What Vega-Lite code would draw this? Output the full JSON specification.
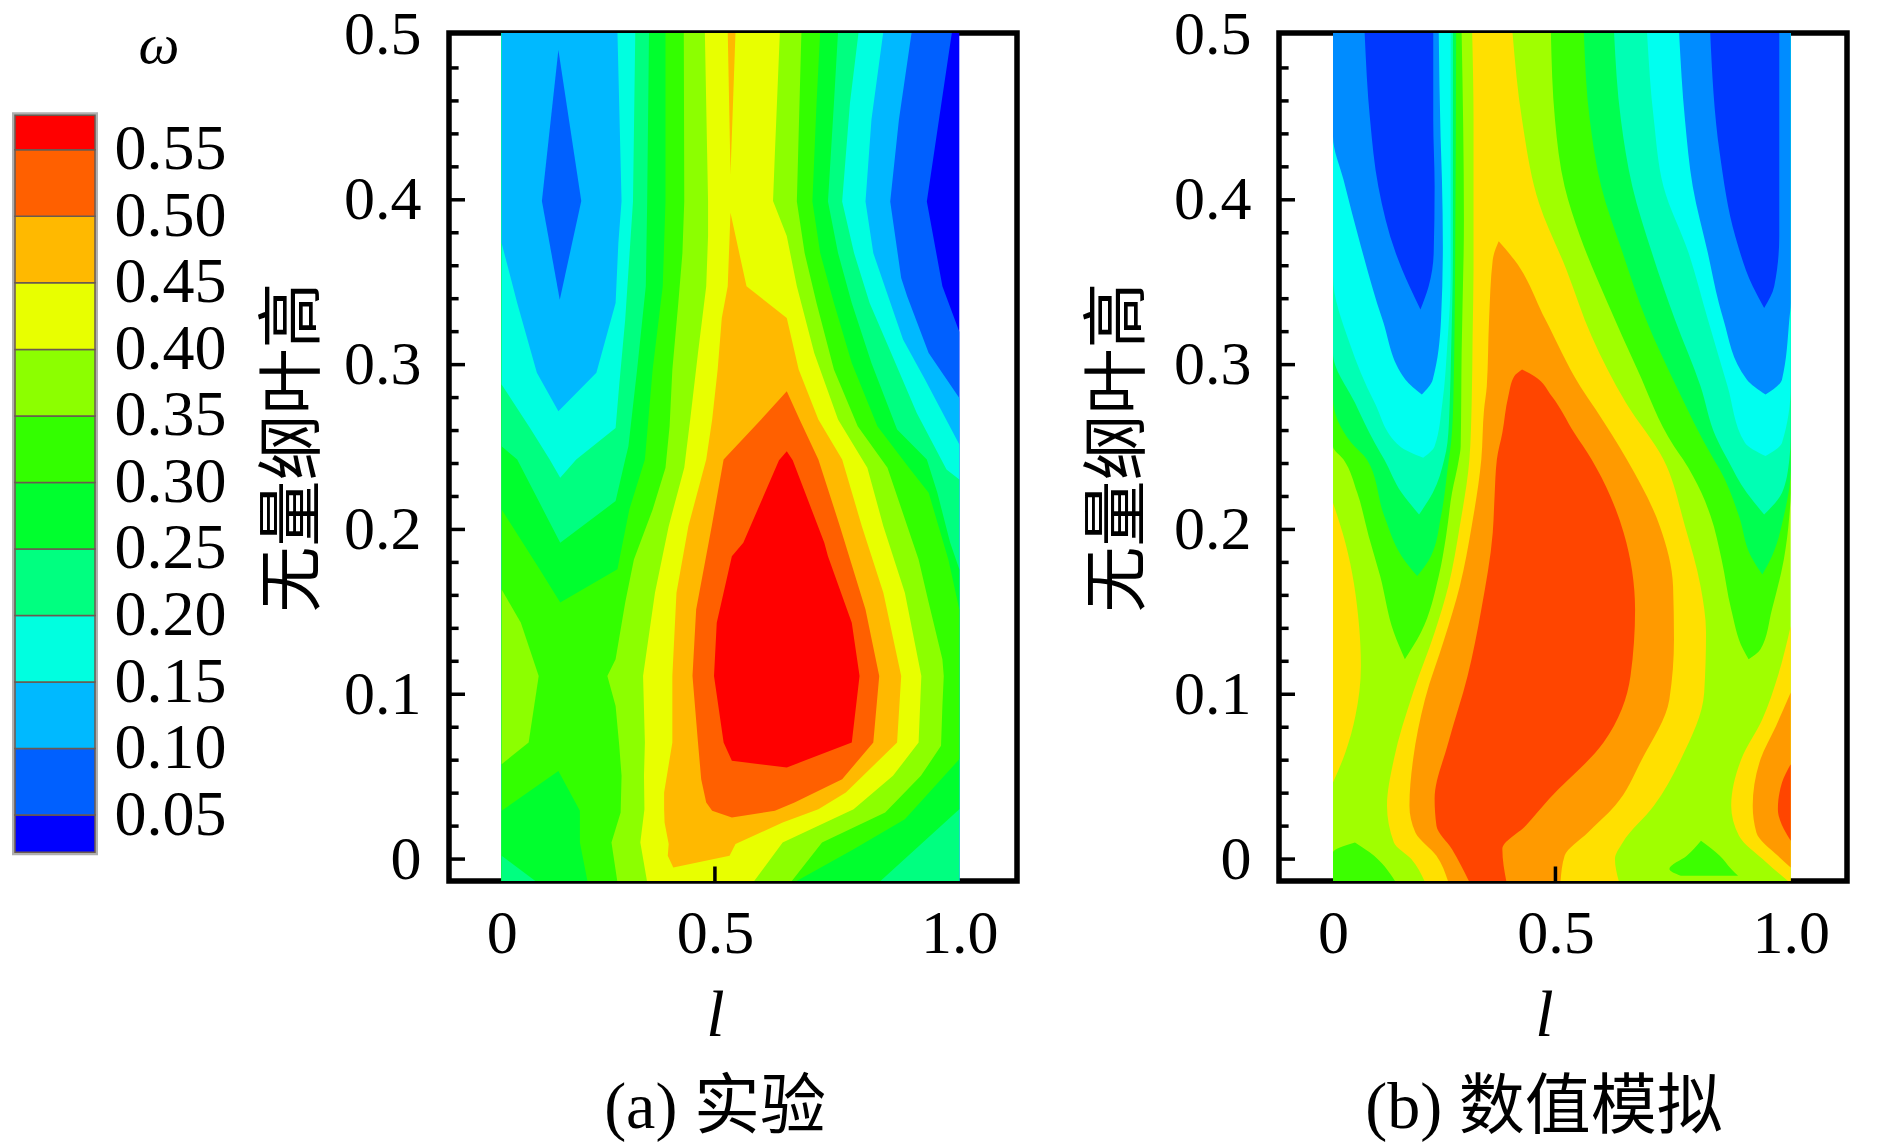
{
"$schema":"https://vega.github.io/schema/vega-lite/v6.json",
"background":"white",
"padding":{"left":12,"top":1,"right":0,"bottom":0},
"bounds":"flush",
"spacing":262,
"resolve":{"scale":{"color":"independent"}},
"datasets":{
"minor":[{"v":0.02},{"v":0.04},{"v":0.06},{"v":0.08},{"v":0.12},{"v":0.14},{"v":0.16},{"v":0.18},{"v":0.22},{"v":0.24},{"v":0.26},{"v":0.28},{"v":0.32},{"v":0.34},{"v":0.36},{"v":0.38},{"v":0.42},{"v":0.44},{"v":0.46},{"v":0.48}],
"major":[{"v":0},{"v":0.1},{"v":0.2},{"v":0.3},{"v":0.4}],
"legend":[
{"w":"0","lo":0.022,"hi":0.05},{"w":"0.05","lo":0.05,"hi":0.1},{"w":"0.10","lo":0.1,"hi":0.15},{"w":"0.15","lo":0.15,"hi":0.2},{"w":"0.20","lo":0.2,"hi":0.25},{"w":"0.25","lo":0.25,"hi":0.3},{"w":"0.30","lo":0.3,"hi":0.35},{"w":"0.35","lo":0.35,"hi":0.4},{"w":"0.40","lo":0.4,"hi":0.45},{"w":"0.45","lo":0.45,"hi":0.5},{"w":"0.50","lo":0.5,"hi":0.55},{"w":"0.55","lo":0.55,"hi":0.576}],
"exp":[
{"s":"a00","w":"0","h":-0.014,"l":0,"l2":1},{"s":"a00","w":"0","h":0.502,"l":0,"l2":1},
{"s":"a01","w":"0.05","h":-0.014,"l":0,"l2":1},{"s":"a01","w":"0.05","h":0.32,"l":0,"l2":1},{"s":"a01","w":"0.05","h":0.3475,"l":0,"l2":0.963},{"s":"a01","w":"0.05","h":0.399,"l":0,"l2":0.929},{"s":"a01","w":"0.05","h":0.502,"l":0,"l2":0.984},
{"s":"a02","w":"0.10","h":-0.014,"l":0,"l2":1},{"s":"a02","w":"0.10","h":0.2798,"l":0,"l2":1},{"s":"a02","w":"0.10","h":0.307,"l":0,"l2":0.933},{"s":"a02","w":"0.10","h":0.3415,"l":0,"l2":0.886},{"s":"a02","w":"0.10","h":0.3525,"l":0,"l2":0.873},{"s":"a02","w":"0.10","h":0.399,"l":0,"l2":0.849},{"s":"a02","w":"0.10","h":0.4485,"l":0,"l2":0.868},{"s":"a02","w":"0.10","h":0.502,"l":0,"l2":0.896},
{"s":"a03","w":"0.15","h":-0.014,"l":0,"l2":1},{"s":"a03","w":"0.15","h":0.2515,"l":0,"l2":1},{"s":"a03","w":"0.15","h":0.2909,"l":0,"l2":0.925},{"s":"a03","w":"0.15","h":0.3152,"l":0,"l2":0.877},{"s":"a03","w":"0.15","h":0.3434,"l":0,"l2":0.842},{"s":"a03","w":"0.15","h":0.3677,"l":0,"l2":0.812},{"s":"a03","w":"0.15","h":0.399,"l":0,"l2":0.795},{"s":"a03","w":"0.15","h":0.4485,"l":0,"l2":0.808},{"s":"a03","w":"0.15","h":0.502,"l":0,"l2":0.834},
{"s":"a04","w":"0.20","h":-0.014,"l":0,"l2":1},{"s":"a04","w":"0.20","h":0.2303,"l":0,"l2":1},{"s":"a04","w":"0.20","h":0.2364,"l":0,"l2":0.972},{"s":"a04","w":"0.20","h":0.2707,"l":0,"l2":0.907},{"s":"a04","w":"0.20","h":0.307,"l":0,"l2":0.851},{"s":"a04","w":"0.20","h":0.3374,"l":0,"l2":0.804},{"s":"a04","w":"0.20","h":0.3677,"l":0,"l2":0.77},{"s":"a04","w":"0.20","h":0.399,"l":0,"l2":0.744},{"s":"a04","w":"0.20","h":0.4586,"l":0,"l2":0.761},{"s":"a04","w":"0.20","h":0.502,"l":0,"l2":0.78},
{"s":"a05","w":"0.25","h":-0.014,"l":0,"l2":0.825},{"s":"a05","w":"0.25","h":0.0303,"l":0,"l2":1},{"s":"a05","w":"0.25","h":0.1758,"l":0,"l2":1},{"s":"a05","w":"0.25","h":0.1919,"l":0,"l2":0.98},{"s":"a05","w":"0.25","h":0.2222,"l":0,"l2":0.952},{"s":"a05","w":"0.25","h":0.2424,"l":0,"l2":0.929},{"s":"a05","w":"0.25","h":0.2606,"l":0,"l2":0.864},{"s":"a05","w":"0.25","h":0.301,"l":0,"l2":0.808},{"s":"a05","w":"0.25","h":0.3374,"l":0,"l2":0.765},{"s":"a05","w":"0.25","h":0.3677,"l":0,"l2":0.735},{"s":"a05","w":"0.25","h":0.399,"l":0,"l2":0.713},{"s":"a05","w":"0.25","h":0.4586,"l":0,"l2":0.726},{"s":"a05","w":"0.25","h":0.502,"l":0,"l2":0.735},
{"s":"a06","w":"0.30","h":-0.014,"l":0,"l2":0.64},{"s":"a06","w":"0.30","h":0.006,"l":0,"l2":0.769},{"s":"a06","w":"0.30","h":0.0242,"l":0,"l2":0.881},{"s":"a06","w":"0.30","h":0.0606,"l":0,"l2":1},{"s":"a06","w":"0.30","h":0.1515,"l":0,"l2":1},{"s":"a06","w":"0.30","h":0.1818,"l":0,"l2":0.976},{"s":"a06","w":"0.30","h":0.2222,"l":0,"l2":0.933},{"s":"a06","w":"0.30","h":0.2374,"l":0,"l2":0.89},{"s":"a06","w":"0.30","h":0.2626,"l":0,"l2":0.821},{"s":"a06","w":"0.30","h":0.301,"l":0,"l2":0.765},{"s":"a06","w":"0.30","h":0.3374,"l":0,"l2":0.726},{"s":"a06","w":"0.30","h":0.3677,"l":0,"l2":0.696},{"s":"a06","w":"0.30","h":0.399,"l":0,"l2":0.679},{"s":"a06","w":"0.30","h":0.4586,"l":0,"l2":0.688},{"s":"a06","w":"0.30","h":0.502,"l":0,"l2":0.696},
{"s":"a07","w":"0.25","h":0.1556,"l":0.128,"l2":0.128},{"s":"a07","w":"0.25","h":0.1758,"l":0.083,"l2":0.253},{"s":"a07","w":"0.25","h":0.2121,"l":0,"l2":0.279},{"s":"a07","w":"0.25","h":0.2424,"l":0,"l2":0.313},{"s":"a07","w":"0.25","h":0.297,"l":0,"l2":0.33},{"s":"a07","w":"0.25","h":0.3475,"l":0,"l2":0.352},{"s":"a07","w":"0.25","h":0.399,"l":0,"l2":0.358},{"s":"a07","w":"0.25","h":0.502,"l":0,"l2":0.358},
{"s":"a08","w":"0.20","h":0.1919,"l":0.128,"l2":0.128},{"s":"a08","w":"0.20","h":0.2172,"l":0.081,"l2":0.249},{"s":"a08","w":"0.20","h":0.2424,"l":0.034,"l2":0.27},{"s":"a08","w":"0.20","h":0.2505,"l":0,"l2":0.277},{"s":"a08","w":"0.20","h":0.297,"l":0,"l2":0.296},{"s":"a08","w":"0.20","h":0.3475,"l":0,"l2":0.315},{"s":"a08","w":"0.20","h":0.399,"l":0,"l2":0.318},{"s":"a08","w":"0.20","h":0.502,"l":0,"l2":0.322},
{"s":"a09","w":"0.15","h":0.2313,"l":0.128,"l2":0.128},{"s":"a09","w":"0.15","h":0.2424,"l":0.105,"l2":0.163},{"s":"a09","w":"0.15","h":0.2616,"l":0.062,"l2":0.249},{"s":"a09","w":"0.15","h":0.2879,"l":0,"l2":0.257},{"s":"a09","w":"0.15","h":0.3273,"l":0,"l2":0.27},{"s":"a09","w":"0.15","h":0.399,"l":0,"l2":0.287},{"s":"a09","w":"0.15","h":0.502,"l":0,"l2":0.292},
{"s":"a10","w":"0.10","h":0.2717,"l":0.124,"l2":0.124},{"s":"a10","w":"0.10","h":0.295,"l":0.077,"l2":0.207},{"s":"a10","w":"0.10","h":0.3374,"l":0.034,"l2":0.249},{"s":"a10","w":"0.10","h":0.3737,"l":0,"l2":0.255},{"s":"a10","w":"0.10","h":0.3992,"l":0,"l2":0.262},{"s":"a10","w":"0.10","h":0.502,"l":0,"l2":0.253},
{"s":"a11","w":"0.05","h":0.3394,"l":0.127,"l2":0.127},{"s":"a11","w":"0.05","h":0.3992,"l":0.088,"l2":0.174},{"s":"a11","w":"0.05","h":0.4909,"l":0.124,"l2":0.124},
{"s":"a12","w":"0.35","h":0.0576,"l":0,"l2":0},{"s":"a12","w":"0.35","h":0.0707,"l":0,"l2":0.059},{"s":"a12","w":"0.35","h":0.1111,"l":0,"l2":0.081},{"s":"a12","w":"0.35","h":0.1434,"l":0,"l2":0.042},{"s":"a12","w":"0.35","h":0.1636,"l":0,"l2":0},
{"s":"a13","w":"0.25","h":-0.014,"l":0,"l2":0.188},{"s":"a13","w":"0.25","h":0.0101,"l":0,"l2":0.171},{"s":"a13","w":"0.25","h":0.0293,"l":0,"l2":0.171},{"s":"a13","w":"0.25","h":0.0535,"l":0.124,"l2":0.124},
{"s":"a14","w":"0.20","h":-0.014,"l":0,"l2":0.077},{"s":"a14","w":"0.20","h":0.002,"l":0,"l2":0},
{"s":"a15","w":"0.35","h":-0.014,"l":0.253,"l2":0.632},{"s":"a15","w":"0.35","h":0.0101,"l":0.24,"l2":0.7},{"s":"a15","w":"0.35","h":0.0283,"l":0.26,"l2":0.838},{"s":"a15","w":"0.35","h":0.0505,"l":0.262,"l2":0.916},{"s":"a15","w":"0.35","h":0.0687,"l":0.257,"l2":0.96},{"s":"a15","w":"0.35","h":0.0929,"l":0.249,"l2":0.963},{"s":"a15","w":"0.35","h":0.1111,"l":0.231,"l2":0.966},{"s":"a15","w":"0.35","h":0.1212,"l":0.249,"l2":0.963},{"s":"a15","w":"0.35","h":0.1556,"l":0.27,"l2":0.933},{"s":"a15","w":"0.35","h":0.1818,"l":0.289,"l2":0.911},{"s":"a15","w":"0.35","h":0.2121,"l":0.33,"l2":0.874},{"s":"a15","w":"0.35","h":0.2374,"l":0.358,"l2":0.843},{"s":"a15","w":"0.35","h":0.2626,"l":0.367,"l2":0.778},{"s":"a15","w":"0.35","h":0.297,"l":0.373,"l2":0.726},{"s":"a15","w":"0.35","h":0.3374,"l":0.386,"l2":0.688},{"s":"a15","w":"0.35","h":0.3677,"l":0.395,"l2":0.662},{"s":"a15","w":"0.35","h":0.399,"l":0.399,"l2":0.645},{"s":"a15","w":"0.35","h":0.502,"l":0.398,"l2":0.655},
{"s":"a16","w":"0.40","h":-0.014,"l":0.318,"l2":0.55},{"s":"a16","w":"0.40","h":0.0101,"l":0.303,"l2":0.614},{"s":"a16","w":"0.40","h":0.0303,"l":0.312,"l2":0.769},{"s":"a16","w":"0.40","h":0.0505,"l":0.311,"l2":0.855},{"s":"a16","w":"0.40","h":0.0707,"l":0.313,"l2":0.911},{"s":"a16","w":"0.40","h":0.1111,"l":0.309,"l2":0.917},{"s":"a16","w":"0.40","h":0.1616,"l":0.335,"l2":0.881},{"s":"a16","w":"0.40","h":0.202,"l":0.365,"l2":0.834},{"s":"a16","w":"0.40","h":0.2374,"l":0.399,"l2":0.799},{"s":"a16","w":"0.40","h":0.2667,"l":0.412,"l2":0.735},{"s":"a16","w":"0.40","h":0.3071,"l":0.429,"l2":0.683},{"s":"a16","w":"0.40","h":0.3475,"l":0.447,"l2":0.645},{"s":"a16","w":"0.40","h":0.378,"l":0.451,"l2":0.623},{"s":"a16","w":"0.40","h":0.3992,"l":0.451,"l2":0.593},{"s":"a16","w":"0.40","h":0.4283,"l":0.449,"l2":0.597},{"s":"a16","w":"0.40","h":0.502,"l":0.444,"l2":0.608},
{"s":"a17","w":"0.45","h":-0.0051,"l":0.375,"l2":0.375},{"s":"a17","w":"0.45","h":0.002,"l":0.363,"l2":0.498},{"s":"a17","w":"0.45","h":0.0091,"l":0.365,"l2":0.511},{"s":"a17","w":"0.45","h":0.0222,"l":0.356,"l2":0.614},{"s":"a17","w":"0.45","h":0.0303,"l":0.355,"l2":0.692},{"s":"a17","w":"0.45","h":0.0404,"l":0.355,"l2":0.752},{"s":"a17","w":"0.45","h":0.0707,"l":0.373,"l2":0.864},{"s":"a17","w":"0.45","h":0.1111,"l":0.373,"l2":0.873},{"s":"a17","w":"0.45","h":0.1616,"l":0.382,"l2":0.834},{"s":"a17","w":"0.45","h":0.202,"l":0.408,"l2":0.787},{"s":"a17","w":"0.45","h":0.2424,"l":0.447,"l2":0.744},{"s":"a17","w":"0.45","h":0.2667,"l":0.46,"l2":0.692},{"s":"a17","w":"0.45","h":0.297,"l":0.472,"l2":0.649},{"s":"a17","w":"0.45","h":0.3283,"l":0.481,"l2":0.623},{"s":"a17","w":"0.45","h":0.3475,"l":0.494,"l2":0.535},{"s":"a17","w":"0.45","h":0.3921,"l":0.5,"l2":0.5},
{"s":"a18","w":"0.45","h":0.4152,"l":0.5,"l2":0.5},{"s":"a18","w":"0.45","h":0.502,"l":0.494,"l2":0.511},
{"s":"a19","w":"0.50","h":0.0253,"l":0.503,"l2":0.503},{"s":"a19","w":"0.50","h":0.0293,"l":0.46,"l2":0.597},{"s":"a19","w":"0.50","h":0.0343,"l":0.447,"l2":0.64},{"s":"a19","w":"0.50","h":0.0485,"l":0.436,"l2":0.744},{"s":"a19","w":"0.50","h":0.0707,"l":0.429,"l2":0.812},{"s":"a19","w":"0.50","h":0.1111,"l":0.417,"l2":0.825},{"s":"a19","w":"0.50","h":0.1515,"l":0.425,"l2":0.795},{"s":"a19","w":"0.50","h":0.202,"l":0.459,"l2":0.739},{"s":"a19","w":"0.50","h":0.2424,"l":0.485,"l2":0.692},{"s":"a19","w":"0.50","h":0.2667,"l":0.567,"l2":0.651},{"s":"a19","w":"0.50","h":0.2839,"l":0.623,"l2":0.623},
{"s":"a20","w":"0.55","h":0.0556,"l":0.623,"l2":0.623},{"s":"a20","w":"0.55","h":0.0596,"l":0.503,"l2":0.661},{"s":"a20","w":"0.55","h":0.0707,"l":0.485,"l2":0.765},{"s":"a20","w":"0.55","h":0.1111,"l":0.464,"l2":0.782},{"s":"a20","w":"0.55","h":0.1434,"l":0.47,"l2":0.765},{"s":"a20","w":"0.55","h":0.1838,"l":0.503,"l2":0.713},{"s":"a20","w":"0.55","h":0.1919,"l":0.528,"l2":0.705},{"s":"a20","w":"0.55","h":0.242,"l":0.606,"l2":0.636},{"s":"a20","w":"0.55","h":0.2475,"l":0.623,"l2":0.623}
],
"sim":[
{"s":"b00","w":"0.35","h":-0.014,"l":0,"l2":1},{"s":"b00","w":"0.35","h":0.502,"l":0,"l2":1},
{"s":"b01","w":"0.40","h":0.0465,"l":0,"l2":0},{"s":"b01","w":"0.40","h":0.0646,"l":0,"l2":0.027},{"s":"b01","w":"0.40","h":0.0869,"l":0,"l2":0.049},{"s":"b01","w":"0.40","h":0.1172,"l":0,"l2":0.061},{"s":"b01","w":"0.40","h":0.1414,"l":0,"l2":0.057},{"s":"b01","w":"0.40","h":0.1919,"l":0,"l2":0.027},{"s":"b01","w":"0.40","h":0.2162,"l":0,"l2":0},
{"s":"b02","w":"0.30","h":-0.014,"l":0,"l2":0.137},{"s":"b02","w":"0.30","h":0.0041,"l":0,"l2":0.08},{"s":"b02","w":"0.30","h":0.0101,"l":0.048,"l2":0.048},
{"s":"b03","w":"0.30","h":-0.0101,"l":0.76,"l2":0.885},{"s":"b03","w":"0.30","h":-0.006,"l":0.735,"l2":0.87},{"s":"b03","w":"0.30","h":0.002,"l":0.773,"l2":0.845},{"s":"b03","w":"0.30","h":0.0111,"l":0.804,"l2":0.804},
{"s":"b04","w":"0.40","h":-0.014,"l":0.997,"l2":1},{"s":"b04","w":"0.40","h":-0.002,"l":0.947,"l2":1},{"s":"b04","w":"0.40","h":0.0141,"l":0.887,"l2":1},{"s":"b04","w":"0.40","h":0.0323,"l":0.87,"l2":1},{"s":"b04","w":"0.40","h":0.0606,"l":0.892,"l2":1},{"s":"b04","w":"0.40","h":0.0848,"l":0.938,"l2":1},{"s":"b04","w":"0.40","h":0.1111,"l":0.972,"l2":1},{"s":"b04","w":"0.40","h":0.1414,"l":1,"l2":1},
{"s":"b05","w":"0.45","h":-0.0051,"l":1,"l2":1},{"s":"b05","w":"0.45","h":0.002,"l":0.972,"l2":1},{"s":"b05","w":"0.45","h":0.0162,"l":0.925,"l2":1},{"s":"b05","w":"0.45","h":0.0323,"l":0.917,"l2":1},{"s":"b05","w":"0.45","h":0.0606,"l":0.934,"l2":1},{"s":"b05","w":"0.45","h":0.0808,"l":0.968,"l2":1},{"s":"b05","w":"0.45","h":0.101,"l":1,"l2":1},
{"s":"b06","w":"0.50","h":0.0111,"l":1,"l2":1},{"s":"b06","w":"0.50","h":0.0182,"l":0.985,"l2":1},{"s":"b06","w":"0.50","h":0.0303,"l":0.972,"l2":1},{"s":"b06","w":"0.50","h":0.0465,"l":0.981,"l2":1},{"s":"b06","w":"0.50","h":0.0576,"l":1,"l2":1},
{"s":"b07","w":"0.30","h":0.1212,"l":0.157,"l2":0.157},{"s":"b07","w":"0.30","h":0.1374,"l":0.133,"l2":0.192},{"s":"b07","w":"0.30","h":0.1717,"l":0.103,"l2":0.231},{"s":"b07","w":"0.30","h":0.1959,"l":0.078,"l2":0.247},{"s":"b07","w":"0.30","h":0.2222,"l":0.053,"l2":0.26},{"s":"b07","w":"0.30","h":0.2424,"l":0.023,"l2":0.275},{"s":"b07","w":"0.30","h":0.2505,"l":0,"l2":0.279},{"s":"b07","w":"0.30","h":0.3071,"l":0,"l2":0.281},{"s":"b07","w":"0.30","h":0.3879,"l":0,"l2":0.286},{"s":"b07","w":"0.30","h":0.502,"l":0,"l2":0.281},
{"s":"b08","w":"0.25","h":0.1717,"l":0.184,"l2":0.184},{"s":"b08","w":"0.25","h":0.1838,"l":0.15,"l2":0.214},{"s":"b08","w":"0.25","h":0.2081,"l":0.112,"l2":0.236},{"s":"b08","w":"0.25","h":0.2424,"l":0.074,"l2":0.253},{"s":"b08","w":"0.25","h":0.2526,"l":0.04,"l2":0.258},{"s":"b08","w":"0.25","h":0.2798,"l":0,"l2":0.263},{"s":"b08","w":"0.25","h":0.3677,"l":0,"l2":0.267},{"s":"b08","w":"0.25","h":0.502,"l":0,"l2":0.269},
{"s":"b09","w":"0.20","h":0.2091,"l":0.188,"l2":0.188},{"s":"b09","w":"0.20","h":0.2222,"l":0.15,"l2":0.218},{"s":"b09","w":"0.20","h":0.2424,"l":0.112,"l2":0.243},{"s":"b09","w":"0.20","h":0.2526,"l":0.091,"l2":0.25},{"s":"b09","w":"0.20","h":0.2768,"l":0.048,"l2":0.255},{"s":"b09","w":"0.20","h":0.3071,"l":0,"l2":0.258},{"s":"b09","w":"0.20","h":0.3677,"l":0,"l2":0.262},{"s":"b09","w":"0.20","h":0.502,"l":0,"l2":0.262},
{"s":"b10","w":"0.15","h":0.2435,"l":0.197,"l2":0.197},{"s":"b10","w":"0.15","h":0.2505,"l":0.146,"l2":0.222},{"s":"b10","w":"0.15","h":0.2768,"l":0.091,"l2":0.239},{"s":"b10","w":"0.15","h":0.3132,"l":0.036,"l2":0.25},{"s":"b10","w":"0.15","h":0.3536,"l":0,"l2":0.257},{"s":"b10","w":"0.15","h":0.502,"l":0,"l2":0.257},
{"s":"b11","w":"0.10","h":0.2819,"l":0.194,"l2":0.194},{"s":"b11","w":"0.10","h":0.291,"l":0.158,"l2":0.218},{"s":"b11","w":"0.10","h":0.3273,"l":0.108,"l2":0.236},{"s":"b11","w":"0.10","h":0.3717,"l":0.061,"l2":0.24},{"s":"b11","w":"0.10","h":0.4121,"l":0.023,"l2":0.238},{"s":"b11","w":"0.10","h":0.4384,"l":0,"l2":0.235},{"s":"b11","w":"0.10","h":0.502,"l":0,"l2":0.231},
{"s":"b12","w":"0.05","h":0.3334,"l":0.191,"l2":0.191},{"s":"b12","w":"0.05","h":0.3475,"l":0.167,"l2":0.209},{"s":"b12","w":"0.05","h":0.3677,"l":0.137,"l2":0.22},{"s":"b12","w":"0.05","h":0.4081,"l":0.099,"l2":0.222},{"s":"b12","w":"0.05","h":0.4485,"l":0.081,"l2":0.219},{"s":"b12","w":"0.05","h":0.502,"l":0.069,"l2":0.219},
{"s":"b13","w":"0.30","h":0.1212,"l":0.908,"l2":0.908},{"s":"b13","w":"0.30","h":0.1273,"l":0.896,"l2":0.934},{"s":"b13","w":"0.30","h":0.1515,"l":0.87,"l2":0.959},{"s":"b13","w":"0.30","h":0.1818,"l":0.849,"l2":0.985},{"s":"b13","w":"0.30","h":0.2081,"l":0.825,"l2":0.997},{"s":"b13","w":"0.30","h":0.2222,"l":0.805,"l2":1},{"s":"b13","w":"0.30","h":0.2424,"l":0.765,"l2":1},{"s":"b13","w":"0.30","h":0.2505,"l":0.745,"l2":1},{"s":"b13","w":"0.30","h":0.297,"l":0.665,"l2":1},{"s":"b13","w":"0.30","h":0.3374,"l":0.6,"l2":1},{"s":"b13","w":"0.30","h":0.3778,"l":0.54,"l2":1},{"s":"b13","w":"0.30","h":0.4081,"l":0.506,"l2":1},{"s":"b13","w":"0.30","h":0.4485,"l":0.485,"l2":1},{"s":"b13","w":"0.30","h":0.502,"l":0.476,"l2":1},
{"s":"b14","w":"0.25","h":0.1727,"l":0.938,"l2":0.938},{"s":"b14","w":"0.25","h":0.1838,"l":0.913,"l2":0.959},{"s":"b14","w":"0.25","h":0.2081,"l":0.887,"l2":0.985},{"s":"b14","w":"0.25","h":0.2363,"l":0.845,"l2":1},{"s":"b14","w":"0.25","h":0.2424,"l":0.832,"l2":1},{"s":"b14","w":"0.25","h":0.2869,"l":0.75,"l2":1},{"s":"b14","w":"0.25","h":0.3273,"l":0.684,"l2":1},{"s":"b14","w":"0.25","h":0.3677,"l":0.633,"l2":1},{"s":"b14","w":"0.25","h":0.4081,"l":0.586,"l2":1},{"s":"b14","w":"0.25","h":0.4485,"l":0.561,"l2":1},{"s":"b14","w":"0.25","h":0.502,"l":0.548,"l2":1},
{"s":"b15","w":"0.20","h":0.2091,"l":0.942,"l2":0.942},{"s":"b15","w":"0.20","h":0.2222,"l":0.904,"l2":0.981},{"s":"b15","w":"0.20","h":0.2424,"l":0.862,"l2":0.997},{"s":"b15","w":"0.20","h":0.2566,"l":0.836,"l2":1},{"s":"b15","w":"0.20","h":0.2869,"l":0.803,"l2":1},{"s":"b15","w":"0.20","h":0.3273,"l":0.747,"l2":1},{"s":"b15","w":"0.20","h":0.3677,"l":0.697,"l2":1},{"s":"b15","w":"0.20","h":0.4081,"l":0.654,"l2":1},{"s":"b15","w":"0.20","h":0.4485,"l":0.629,"l2":1},{"s":"b15","w":"0.20","h":0.502,"l":0.614,"l2":1},
{"s":"b16","w":"0.15","h":0.2445,"l":0.945,"l2":0.945},{"s":"b16","w":"0.15","h":0.2526,"l":0.9,"l2":0.981},{"s":"b16","w":"0.15","h":0.2869,"l":0.862,"l2":1},{"s":"b16","w":"0.15","h":0.3273,"l":0.819,"l2":1},{"s":"b16","w":"0.15","h":0.3677,"l":0.777,"l2":1},{"s":"b16","w":"0.15","h":0.4081,"l":0.722,"l2":1},{"s":"b16","w":"0.15","h":0.4485,"l":0.701,"l2":1},{"s":"b16","w":"0.15","h":0.502,"l":0.686,"l2":1},
{"s":"b17","w":"0.10","h":0.2819,"l":0.945,"l2":0.945},{"s":"b17","w":"0.10","h":0.291,"l":0.904,"l2":0.981},{"s":"b17","w":"0.10","h":0.3273,"l":0.853,"l2":0.997},{"s":"b17","w":"0.10","h":0.3374,"l":0.843,"l2":1},{"s":"b17","w":"0.10","h":0.3677,"l":0.819,"l2":1},{"s":"b17","w":"0.10","h":0.4081,"l":0.786,"l2":1},{"s":"b17","w":"0.10","h":0.4485,"l":0.769,"l2":1},{"s":"b17","w":"0.10","h":0.502,"l":0.756,"l2":1},
{"s":"b18","w":"0.05","h":0.3344,"l":0.942,"l2":0.942},{"s":"b18","w":"0.05","h":0.3475,"l":0.917,"l2":0.964},{"s":"b18","w":"0.05","h":0.3778,"l":0.879,"l2":0.975},{"s":"b18","w":"0.05","h":0.4283,"l":0.845,"l2":0.975},{"s":"b18","w":"0.05","h":0.502,"l":0.824,"l2":0.975},
{"s":"b19","w":"0.40","h":-0.014,"l":0.201,"l2":0.625},{"s":"b19","w":"0.40","h":0,"l":0.171,"l2":0.616},{"s":"b19","w":"0.40","h":0.0101,"l":0.133,"l2":0.633},{"s":"b19","w":"0.40","h":0.0323,"l":0.118,"l2":0.701},{"s":"b19","w":"0.40","h":0.0606,"l":0.133,"l2":0.76},{"s":"b19","w":"0.40","h":0.101,"l":0.175,"l2":0.811},{"s":"b19","w":"0.40","h":0.1374,"l":0.222,"l2":0.815},{"s":"b19","w":"0.40","h":0.1656,"l":0.252,"l2":0.803},{"s":"b19","w":"0.40","h":0.202,"l":0.277,"l2":0.769},{"s":"b19","w":"0.40","h":0.2424,"l":0.298,"l2":0.722},{"s":"b19","w":"0.40","h":0.2768,"l":0.303,"l2":0.64},{"s":"b19","w":"0.40","h":0.3172,"l":0.305,"l2":0.565},{"s":"b19","w":"0.40","h":0.3576,"l":0.307,"l2":0.51},{"s":"b19","w":"0.40","h":0.398,"l":0.307,"l2":0.45},{"s":"b19","w":"0.40","h":0.4485,"l":0.307,"l2":0.413},{"s":"b19","w":"0.40","h":0.502,"l":0.304,"l2":0.392},
{"s":"b20","w":"0.45","h":-0.014,"l":0.252,"l2":0.497},{"s":"b20","w":"0.45","h":0.002,"l":0.226,"l2":0.506},{"s":"b20","w":"0.45","h":0.0162,"l":0.18,"l2":0.557},{"s":"b20","w":"0.45","h":0.0323,"l":0.167,"l2":0.616},{"s":"b20","w":"0.45","h":0.0606,"l":0.175,"l2":0.675},{"s":"b20","w":"0.45","h":0.097,"l":0.201,"l2":0.735},{"s":"b20","w":"0.45","h":0.1333,"l":0.243,"l2":0.745},{"s":"b20","w":"0.45","h":0.1656,"l":0.277,"l2":0.743},{"s":"b20","w":"0.45","h":0.202,"l":0.303,"l2":0.714},{"s":"b20","w":"0.45","h":0.2424,"l":0.324,"l2":0.642},{"s":"b20","w":"0.45","h":0.2727,"l":0.33,"l2":0.574},{"s":"b20","w":"0.45","h":0.2869,"l":0.336,"l2":0.54},{"s":"b20","w":"0.45","h":0.3273,"l":0.341,"l2":0.464},{"s":"b20","w":"0.45","h":0.3636,"l":0.349,"l2":0.396},{"s":"b20","w":"0.45","h":0.3748,"l":0.362,"l2":0.362},
{"s":"b21","w":"0.50","h":-0.014,"l":0.298,"l2":0.379},{"s":"b21","w":"0.50","h":0.006,"l":0.26,"l2":0.37},{"s":"b21","w":"0.50","h":0.0202,"l":0.226,"l2":0.421},{"s":"b21","w":"0.50","h":0.0364,"l":0.222,"l2":0.472},{"s":"b21","w":"0.50","h":0.0707,"l":0.252,"l2":0.591},{"s":"b21","w":"0.50","h":0.1111,"l":0.294,"l2":0.65},{"s":"b21","w":"0.50","h":0.1515,"l":0.324,"l2":0.66},{"s":"b21","w":"0.50","h":0.198,"l":0.349,"l2":0.635},{"s":"b21","w":"0.50","h":0.2202,"l":0.353,"l2":0.606},{"s":"b21","w":"0.50","h":0.2424,"l":0.358,"l2":0.565},{"s":"b21","w":"0.50","h":0.2586,"l":0.37,"l2":0.527},{"s":"b21","w":"0.50","h":0.2808,"l":0.383,"l2":0.478},{"s":"b21","w":"0.50","h":0.2929,"l":0.396,"l2":0.44},{"s":"b21","w":"0.50","h":0.297,"l":0.413,"l2":0.413}
]
},
"hconcat":[
{
"width":172,"height":848,
"view":{"stroke":null},
"layer":[
{"data":{"values":[{"t":"bar"}]},
"mark":{"type":"rect","fill":"#8c8c8c","stroke":"#b0b0b0","strokeWidth":6},
"encoding":{
"x":{"datum":0,"type":"quantitative","scale":{"domain":[0,2.15],"nice":false},"axis":null},
"x2":{"datum":1},
"y":{"datum":0.022,"type":"quantitative","scale":{"domain":[0.00045,0.6378],"nice":false},
"axis":{"orient":"right","offset":-73,"ticks":false,"domain":false,"grid":false,"title":null,"labelPadding":0,"labelFontSize":64,"labelFont":"Liberation Serif","labelColor":"black","values":[0.05,0.1,0.15,0.2,0.25,0.3,0.35,0.4,0.45,0.5,0.55],"format":".2f"}},
"y2":{"datum":0.576}
}},
{"data":{"name":"legend"},
"mark":{"type":"rect","stroke":"#6b5a50","strokeWidth":1.5},
"encoding":{
"x":{"datum":0,"type":"quantitative"},
"x2":{"datum":1},
"y":{"field":"lo","type":"quantitative"},
"y2":{"field":"hi"},
"color":{"field":"w","type":"nominal","legend":null,"scale":{"domain":["0","0.05","0.10","0.15","0.20","0.25","0.30","0.35","0.40","0.45","0.50","0.55"],"range":["#0000ff","#0060ff","#00b9ff","#00ffe0","#00ff80","#00ff2e","#33ff00","#8cff00","#e8ff00","#ffb900","#ff6000","#ff0000"]}}
}},
{"data":{"values":[{"t":"ω"}]},
"mark":{"type":"text","font":"Liberation Serif","fontStyle":"italic","fontSize":58,"color":"black"},
"encoding":{"x":{"datum":1.8,"type":"quantitative"},"y":{"datum":0.628,"type":"quantitative"},"text":{"field":"t"}}}
]
},
{
"width":568,"height":848,
"view":{"stroke":"black","strokeWidth":5.5},
"title":{"text":"(a) 实验","orient":"bottom","anchor":"middle","dx":-18,"offset":28,"fontSize":66,"font":"Liberation Serif, Noto Sans CJK SC","fontWeight":"normal","color":"black"},
"layer":[
{"data":{"name":"exp"},
"mark":{"type":"area","orient":"horizontal","clip":true,"interpolate":"linear"},
"encoding":{
"x":{"field":"l","type":"quantitative","stack":null,"scale":{"domain":[-0.115,1.126],"nice":false},
"axis":{"values":[0,0.466,1],"labelPadding":22,"labelExpr":"datum.value==0?'0':datum.value==1?'1.0':'0.5'","title":"l","titleFontStyle":"italic","titleX":266,"titleY":102}},
"x2":{"field":"l2"},
"y":{"field":"h","type":"quantitative","stack":null,"scale":{"domain":[-0.0133,0.5012],"nice":false},
"axis":{"values":[0,0.1,0.2,0.3,0.4,0.5],"labelExpr":"datum.value==0?'0':format(datum.value,'.1f')","title":"无量纲叶高","titleX":-122,"titleY":414}},
"detail":{"field":"s"},
"color":{"field":"w","type":"nominal","legend":null,"scale":{"domain":["0","0.05","0.10","0.15","0.20","0.25","0.30","0.35","0.40","0.45","0.50","0.55"],"range":["#0000ff","#0060ff","#00b9ff","#00ffe0","#00ff80","#00ff2e","#33ff00","#8cff00","#e8ff00","#ffb900","#ff6000","#ff0000"]}}
}},
{"data":{"name":"minor"},"mark":{"type":"rule","color":"black","strokeWidth":3.5},
"encoding":{"x":{"datum":-0.115,"type":"quantitative"},"x2":{"datum":-0.094},"y":{"field":"v","type":"quantitative"}}},
{"data":{"name":"major"},"mark":{"type":"rule","color":"black","strokeWidth":3.5},
"encoding":{"x":{"datum":-0.115,"type":"quantitative"},"x2":{"datum":-0.08},"y":{"field":"v","type":"quantitative"}}},
{"data":{"values":[{"t":"tick"}]},"mark":{"type":"rule","color":"black","strokeWidth":3.5},
"encoding":{"x":{"datum":0.466,"type":"quantitative"},"y":{"datum":-0.0133,"type":"quantitative"},"y2":{"datum":-0.0045}}}
]
},
{
"width":568,"height":848,
"view":{"stroke":"black","strokeWidth":5.5},
"title":{"text":"(b) 数值模拟","orient":"bottom","anchor":"middle","dx":-19,"offset":28,"fontSize":66,"font":"Liberation Serif, Noto Sans CJK SC","fontWeight":"normal","color":"black"},
"layer":[
{"data":{"name":"sim"},
"mark":{"type":"area","orient":"horizontal","clip":true,"interpolate":"monotone"},
"encoding":{
"x":{"field":"l","type":"quantitative","stack":null,"scale":{"domain":[-0.118,1.123],"nice":false},
"axis":{"values":[0,0.486,1],"labelPadding":22,"labelExpr":"datum.value==0?'0':datum.value==1?'1.0':'0.5'","title":"l","titleFontStyle":"italic","titleX":265,"titleY":102}},
"x2":{"field":"l2"},
"y":{"field":"h","type":"quantitative","stack":null,"scale":{"domain":[-0.0133,0.5012],"nice":false},
"axis":{"values":[0,0.1,0.2,0.3,0.4,0.5],"labelExpr":"datum.value==0?'0':format(datum.value,'.1f')","title":"无量纲叶高","titleX":-127,"titleY":414}},
"detail":{"field":"s"},
"color":{"field":"w","type":"nominal","legend":null,"scale":{"domain":["0.05","0.10","0.15","0.20","0.25","0.30","0.35","0.40","0.45","0.50"],"range":["#0038ff","#008cff","#00fff0","#00ffb4","#00ff50","#3cff00","#a0ff00","#ffe000","#ff9a00","#ff4500"]}}
}},
{"data":{"name":"minor"},"mark":{"type":"rule","color":"black","strokeWidth":3.5},
"encoding":{"x":{"datum":-0.118,"type":"quantitative"},"x2":{"datum":-0.097},"y":{"field":"v","type":"quantitative"}}},
{"data":{"name":"major"},"mark":{"type":"rule","color":"black","strokeWidth":3.5},
"encoding":{"x":{"datum":-0.118,"type":"quantitative"},"x2":{"datum":-0.083},"y":{"field":"v","type":"quantitative"}}},
{"data":{"values":[{"t":"tick"}]},"mark":{"type":"rule","color":"black","strokeWidth":3.5},
"encoding":{"x":{"datum":0.486,"type":"quantitative"},"y":{"datum":-0.0133,"type":"quantitative"},"y2":{"datum":-0.0045}}}
]
}
],
"config":{
"axis":{"grid":false,"domain":false,"ticks":false,"labelFont":"Liberation Serif","labelFontSize":62,"labelColor":"black","labelPadding":28,"titleFont":"Liberation Serif, Noto Sans CJK SC","titleFontSize":66,"titleFontWeight":"normal","titleColor":"black"},
"style":{"guide-label":{"baseline":"middle"}}
}
}
